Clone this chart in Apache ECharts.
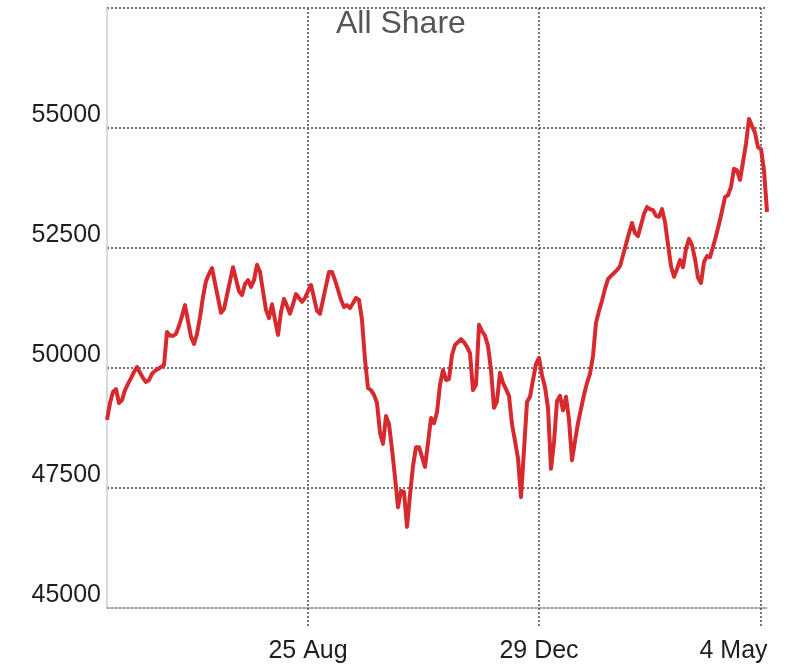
<!DOCTYPE html>
<html>
<head>
<meta charset="utf-8">
<script src="https://cdn.jsdelivr.net/npm/echarts@6.0.0/dist/echarts.min.js"></script>
<style>
  html, body { margin: 0; padding: 0; background: #ffffff; overflow: hidden; width: 786px; height: 667px; }
  #chart { width: 786px; height: 667px; }
</style>
</head>
<body>
<div id="chart"></div>
<script>
const values = [
  48920, 49270, 49500, 49560, 49270, 49330, 49540, 49670, 49790, 49920,
  50020, 49900, 49790, 49710, 49750, 49880, 49940, 49980, 50020, 50060,
  50750, 50670, 50670, 50710, 50880, 51080, 51310, 50980, 50650, 50500,
  50710, 51060, 51480, 51810, 51960, 52080, 51770, 51460, 51150, 51230,
  51520, 51810, 52100, 51850, 51600, 51520, 51750, 51830, 51690, 51830,
  52150, 52000, 51600, 51210, 51040, 51330, 51000, 50690, 51170, 51440,
  51290, 51130, 51330, 51540, 51460, 51380, 51460, 51600, 51730, 51460,
  51190, 51130, 51420, 51710, 52000, 52000, 51830, 51630, 51420, 51270,
  51310, 51250, 51350, 51460, 51420, 51000, 50170, 49580, 49540, 49440,
  49270, 48650, 48420, 49000, 48830, 48310, 47730, 47100, 47440, 47420,
  46690, 47350, 47960, 48350, 48350, 48150, 47940, 48440, 48960, 48850,
  49080, 49650, 49960, 49750, 49770, 50270, 50480, 50540, 50600, 50540,
  50440, 50310, 49540, 49650, 50900, 50770, 50670, 50460, 49960, 49170,
  49310, 49900, 49690, 49560, 49420, 48830, 48480, 48120, 47310, 48290,
  49290, 49400, 49750, 50080, 50210, 49850, 49600, 49170, 47900, 48460,
  49310, 49420, 49120, 49400, 48920, 48080, 48480, 48850, 49150, 49440,
  49690, 49880, 50250, 50940, 51190, 51400, 51650, 51850, 51920, 51980,
  52040, 52120, 52350, 52580, 52810, 53020, 52810, 52750, 52980, 53210,
  53350, 53310, 53290, 53170, 53150, 53310, 53040, 52580, 52120, 51900,
  52060, 52250, 52100, 52480, 52690, 52560, 52270, 51880, 51770, 52210,
  52330, 52310, 52520, 52750, 53000, 53270, 53560, 53600, 53770, 54150,
  54120, 53920, 54290, 54670, 55190, 55040, 54900, 54600, 54560, 54120,
  53250
];

// Date tick labels and the sample each one falls on
const tickLabels = ['25 Aug', '29 Dec', '4 May'];
const tickIndex = [67, 144, 218];

// Y-axis scale
const yMin = 45000;
const yMax = 57500;
const yStep = 2500;

const categories = values.map((v, i) => {
  const k = tickIndex.indexOf(i);
  return k >= 0 ? tickLabels[k] : String(i);
});
const isTick = (idx) => tickIndex.indexOf(idx) >= 0;
const lastLabel = tickLabels[tickLabels.length - 1];

const FONT = 'Liberation Sans, Arial, sans-serif';
const dotted = { color: '#4a4a4a', type: [2, 2], width: 1.5 };
const labelText = { fontFamily: FONT, fontSize: 25, color: '#1e1e1e' };

const chart = echarts.init(document.getElementById('chart'), null, { renderer: 'canvas', width: 786, height: 667 });
chart.setOption({
  animation: false,
  backgroundColor: '#ffffff',
  title: {
    text: 'All Share',
    left: 331,
    top: 3,
    textStyle: { fontFamily: FONT, fontSize: 32, fontWeight: 'normal', color: '#555555' }
  },
  grid: { left: 107, right: 19, top: 8, bottom: 59, containLabel: false, outerBoundsMode: 'none' },
  xAxis: {
    type: 'category',
    data: categories,
    boundaryGap: false,
    axisLine: { show: true, lineStyle: { color: '#a9adb5', width: 1.5 } },
    axisTick: { show: true, interval: isTick, length: 20, lineStyle: dotted },
    axisLabel: Object.assign({
      interval: isTick,
      margin: 31,
      hideOverlap: false,
      formatter: (v) => (v === lastLabel ? '{r|' + v + '}' : v),
      rich: { r: Object.assign({ padding: [0, 55, 0, 0] }, labelText) }
    }, labelText),
    splitLine: { show: true, interval: isTick, lineStyle: dotted }
  },
  yAxis: {
    type: 'value',
    min: yMin,
    max: yMax,
    interval: yStep,
    axisLine: { show: true, lineStyle: { color: '#c3ccd9', width: 1.5 } },
    axisTick: { show: false },
    axisLabel: Object.assign({
      showMaxLabel: false,
      verticalAlign: 'bottom',
      margin: 6,
      formatter: (v) => String(v)
    }, labelText),
    splitLine: { show: true, lineStyle: dotted }
  },
  series: [{
    type: 'line',
    data: values,
    showSymbol: false,
    smooth: false,
    lineStyle: { color: '#d62a2f', width: 4, join: 'round' },
    itemStyle: { color: '#d62a2f' }
  }]
});
</script>
</body>
</html>
